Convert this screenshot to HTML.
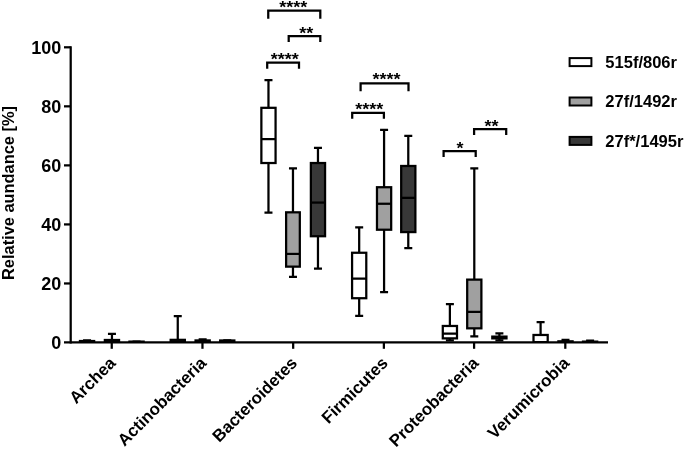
<!DOCTYPE html>
<html><head><meta charset="utf-8"><title>Relative abundance</title>
<style>html,body{margin:0;padding:0;background:#fff}svg{display:block;will-change:transform}text{font-family:"Liberation Sans",Arial,sans-serif;font-weight:bold;fill:#000}</style></head><body>
<svg width="685" height="449" viewBox="0 0 685 449">
<rect width="685" height="449" fill="#fff"/>
<defs><clipPath id="c"><rect x="0" y="0" width="685" height="342.50"/></clipPath></defs>
<g stroke="#000" stroke-width="2.25" fill="none" stroke-linecap="butt" clip-path="url(#c)">
<path d="M87.05 340.29V341.02M87.05 342.50V342.50M83.05 340.29H91.05M83.05 342.50H91.05"/>
<rect x="79.95" y="341.02" width="14.20" height="1.48" fill="#ffffff"/>
<path d="M79.95 342.20H94.15"/>
<path d="M111.95 333.79V339.99M111.95 342.50V342.50M107.95 333.79H115.95M107.95 342.50H115.95"/>
<rect x="104.85" y="339.99" width="14.20" height="2.51" fill="#a0a0a0"/>
<path d="M104.85 341.61H119.05"/>
<path d="M136.55 341.61V341.61M136.55 342.50V342.50M132.55 341.61H140.55M132.55 342.50H140.55"/>
<rect x="129.45" y="341.61" width="14.20" height="0.89" fill="#383838"/>
<path d="M129.45 342.35H143.65"/>
<path d="M177.76 316.08V339.84M177.76 342.50V342.50M173.76 316.08H181.76M173.76 342.50H181.76"/>
<rect x="170.66" y="339.84" width="14.20" height="2.66" fill="#ffffff"/>
<path d="M170.66 341.61H184.86"/>
<path d="M202.66 339.25V340.43M202.66 342.50V342.50M198.66 339.25H206.66M198.66 342.50H206.66"/>
<rect x="195.56" y="340.43" width="14.20" height="2.07" fill="#a0a0a0"/>
<path d="M195.56 341.61H209.76"/>
<path d="M227.26 340.49V340.49M227.26 342.50V342.50M223.26 340.49H231.26M223.26 342.50H231.26"/>
<rect x="220.16" y="340.49" width="14.20" height="2.01" fill="#383838"/>
<path d="M220.16 341.91H234.36"/>
<path d="M268.47 80.07V107.82M268.47 163.02V212.61M264.47 80.07H272.47M264.47 212.61H272.47"/>
<rect x="261.37" y="107.82" width="14.20" height="55.20" fill="#ffffff"/>
<path d="M261.37 139.11H275.57"/>
<path d="M292.97 168.33V212.32M292.97 266.63V276.97M288.97 168.33H296.97M288.97 276.97H296.97"/>
<rect x="286.12" y="212.32" width="13.70" height="54.32" fill="#a0a0a0"/>
<path d="M286.12 253.94H299.82"/>
<path d="M317.97 147.96V163.02M317.97 236.23V268.70M313.97 147.96H321.97M313.97 268.70H321.97"/>
<rect x="310.87" y="163.02" width="14.20" height="73.21" fill="#383838"/>
<path d="M310.87 202.58H325.07"/>
<path d="M359.18 227.37V252.76M359.18 298.22V315.93M355.18 227.37H363.18M355.18 315.93H363.18"/>
<rect x="352.08" y="252.76" width="14.20" height="45.46" fill="#ffffff"/>
<path d="M352.08 278.74H366.28"/>
<path d="M384.08 129.96V187.22M384.08 229.73V292.02M380.08 129.96H388.08M380.08 292.02H388.08"/>
<rect x="376.98" y="187.22" width="14.20" height="42.51" fill="#a0a0a0"/>
<path d="M376.98 203.76H391.18"/>
<path d="M408.28 135.86V165.97M408.28 232.10V248.04M404.28 135.86H412.28M404.28 248.04H412.28"/>
<rect x="401.18" y="165.97" width="14.20" height="66.12" fill="#383838"/>
<path d="M401.18 197.85H415.38"/>
<path d="M449.89 304.12V325.97M449.89 338.37V340.29M445.89 304.12H453.89M445.89 340.29H453.89"/>
<rect x="442.79" y="325.97" width="14.20" height="12.40" fill="#ffffff"/>
<path d="M442.79 333.64H456.99"/>
<path d="M474.29 168.33V279.62M474.29 328.33V336.30M470.29 168.33H478.29M470.29 336.30H478.29"/>
<rect x="467.19" y="279.62" width="14.20" height="48.71" fill="#a0a0a0"/>
<path d="M467.19 311.80H481.39"/>
<path d="M499.39 333.35V336.60M499.39 338.37V340.29M495.39 333.35H503.39M495.39 340.29H503.39"/>
<rect x="492.29" y="336.60" width="14.20" height="1.77" fill="#383838"/>
<path d="M492.29 337.48H506.49"/>
<path d="M540.60 322.13V334.97M540.60 342.50V342.50M536.60 322.13H544.60M536.60 342.50H544.60"/>
<rect x="533.50" y="334.97" width="14.20" height="7.53" fill="#ffffff"/>
<path d="M533.50 342.20H547.70"/>
<path d="M565.50 339.99V341.32M565.50 342.50V342.50M561.50 339.99H569.50M561.50 342.50H569.50"/>
<rect x="558.40" y="341.32" width="14.20" height="1.18" fill="#a0a0a0"/>
<path d="M558.40 342.20H572.60"/>
<path d="M590.10 340.58V341.61M590.10 342.50V342.50M586.10 340.58H594.10M586.10 342.50H594.10"/>
<rect x="583.00" y="341.61" width="14.20" height="0.89" fill="#383838"/>
<path d="M583.00 342.20H597.20"/>
</g>
<g stroke="#000" stroke-width="2.25" fill="none">
<path d="M70.7 46.18V343.62"/>
<path d="M64 342.4H608" stroke-width="2.4"/>
<path d="M64 283.46H70.7"/>
<path d="M64 224.42H70.7"/>
<path d="M64 165.38H70.7"/>
<path d="M64 106.34H70.7"/>
<path d="M64 47.30H70.7"/>
<path d="M111.75 342.5V348.8"/>
<path d="M202.46 342.5V348.8"/>
<path d="M293.17 342.5V348.8"/>
<path d="M383.88 342.5V348.8"/>
<path d="M474.09 342.5V348.8"/>
<path d="M565.30 342.5V348.8"/>
</g>
<text x="61.3" y="348.90" font-size="18" text-anchor="end">0</text>
<text x="61.3" y="289.86" font-size="18" text-anchor="end">20</text>
<text x="61.3" y="230.82" font-size="18" text-anchor="end">40</text>
<text x="61.3" y="171.78" font-size="18" text-anchor="end">60</text>
<text x="61.3" y="112.74" font-size="18" text-anchor="end">80</text>
<text x="61.3" y="53.70" font-size="18" text-anchor="end">100</text>
<text transform="translate(14 193.0) rotate(-90)" font-size="16.4" text-anchor="middle">Relative aundance [%]</text>
<text transform="translate(116.75 364) rotate(-45)" font-size="16.9" text-anchor="end">Archea</text>
<text transform="translate(207.46 364) rotate(-45)" font-size="16.9" text-anchor="end">Actinobacteria</text>
<text transform="translate(298.17 364) rotate(-45)" font-size="16.9" text-anchor="end">Bacteroidetes</text>
<text transform="translate(388.88 364) rotate(-45)" font-size="16.9" text-anchor="end">Firmicutes</text>
<text transform="translate(479.59 364) rotate(-45)" font-size="16.9" text-anchor="end">Proteobacteria</text>
<text transform="translate(570.30 364) rotate(-45)" font-size="16.9" text-anchor="end">Verumicrobia</text>
<g stroke="#000" stroke-width="2.25" fill="none">
<path d="M268.25 18.8V10.6H320.3V18.8"/>
<path d="M288.7 41.9V36.2H320.3V41.9"/>
<path d="M267.2 68.7V62.5H299.0V68.7"/>
<path d="M360.6 91.2V83.3H408.5V91.2"/>
<path d="M352.2 118.8V112.8H383.9V118.8"/>
<path d="M474.1 134.9V129.0H506.2V134.9"/>
<path d="M443.6 156.9V151.1H475.7V156.9"/>
</g>
<text transform="translate(293.25 12.60) scale(1 0.87)" font-size="18" text-anchor="middle">****</text>
<text transform="translate(306.25 38.75) scale(1 0.87)" font-size="18" text-anchor="middle">**</text>
<text transform="translate(284.70 64.55) scale(1 0.87)" font-size="18" text-anchor="middle">****</text>
<text transform="translate(386.60 84.50) scale(1 0.87)" font-size="18" text-anchor="middle">****</text>
<text transform="translate(369.15 114.80) scale(1 0.87)" font-size="18" text-anchor="middle">****</text>
<text transform="translate(491.60 132.20) scale(1 0.87)" font-size="18" text-anchor="middle">**</text>
<text transform="translate(460.00 153.50) scale(1 0.87)" font-size="18" text-anchor="middle">*</text>
<rect x="569.6" y="58.10" width="21.8" height="8" fill="#ffffff" stroke="#000" stroke-width="2"/>
<text x="605.3" y="67.70" font-size="16.55">515f/806r</text>
<rect x="569.6" y="97.50" width="21.8" height="8" fill="#a0a0a0" stroke="#000" stroke-width="2"/>
<text x="605.3" y="107.10" font-size="16.55">27f/1492r</text>
<rect x="569.6" y="136.90" width="21.8" height="8" fill="#383838" stroke="#000" stroke-width="2"/>
<text x="605.3" y="146.50" font-size="16.55">27f*/1495r</text>
</svg></body></html>
